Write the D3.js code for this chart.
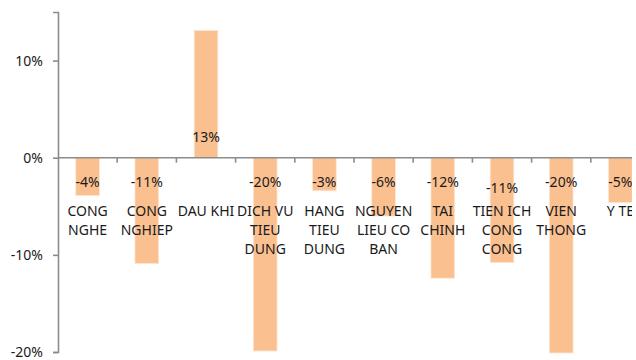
<!DOCTYPE html>
<html>
<head>
<meta charset="utf-8">
<script src="https://cdn.jsdelivr.net/npm/d3@7"></script>
<style>
  html, body { margin: 0; padding: 0; background: #fff; overflow: hidden; }
  svg { display: block; font-family: "Noto Sans", sans-serif; }
</style>
</head>
<body>
<svg id="chart" width="636" height="360"></svg>
<script>
// Sector returns; category names use "\n" for line breaks
const categories = [
  "CONG\nNGHE", "CONG\nNGHIEP", "DAU KHI", "DICH VU\nTIEU\nDUNG", "HANG\nTIEU\nDUNG",
  "NGUYEN\nLIEU CO\nBAN", "TAI\nCHINH", "TIEN ICH\nCONG\nCONG", "VIEN\nTHONG", "Y TE"
];
const values = [-0.039, -0.109, 0.131, -0.199, -0.034, -0.060, -0.124, -0.108, -0.201, -0.046];
const yTicks = [-0.2, -0.1, 0, 0.1];

const svg = d3.select("#chart");
const margin = { left: 58, top: 12 };
const plotW = 592, plotH = 340;

// everything is cut off at the right edge of the drawing area
svg.append("defs").append("clipPath").attr("id", "area")
  .append("rect").attr("x", 0).attr("y", 0).attr("width", 632).attr("height", 360);
const root = svg.append("g").attr("clip-path", "url(#area)");

const x = d3.scaleBand().domain(categories).range([margin.left, margin.left + plotW]).paddingInner(0.6).paddingOuter(0.3);
const y = d3.scaleLinear().domain([-0.2, 0.15]).range([margin.top + plotH, margin.top]);
const pct = d3.format(".0%");
const fmt = d => pct(d).replace("\u2212", "-");
const axisColor = "#8c8c8c";

// bars
root.append("g").selectAll("rect").data(values).join("rect")
  .attr("x", (d, i) => x(categories[i]))
  .attr("width", x.bandwidth())
  .attr("y", d => y(Math.max(0, d)))
  .attr("height", d => Math.abs(y(d) - y(0)))
  .attr("fill", "#FAC090")
  .attr("stroke", "#fde6d2")
  .attr("stroke-width", 0.8);

// y axis
const yAxis = root.append("g").attr("transform", `translate(${margin.left},0)`)
  .call(d3.axisLeft(y).tickValues(yTicks).tickFormat(fmt).tickSize(5).tickPadding(10));
yAxis.select(".domain").attr("stroke", axisColor).attr("stroke-width", 1.6);
yAxis.selectAll(".tick line").attr("stroke", axisColor).attr("stroke-width", 1.6);
yAxis.selectAll("text").attr("font-size", 14).attr("fill", "#1a1a1a").attr("font-family", "Noto Sans");

// category axis along zero line, ticks between categories
const boundaries = d3.range(categories.length + 1).map(i => margin.left + i * plotW / categories.length);
const xg = root.append("g");
xg.append("line")
  .attr("x1", margin.left).attr("x2", margin.left + plotW)
  .attr("y1", y(0)).attr("y2", y(0))
  .attr("stroke", axisColor).attr("stroke-width", 1.6);
xg.selectAll("line.tick").data(boundaries.slice(1)).join("line").attr("class", "tick")
  .attr("x1", d => d).attr("x2", d => d)
  .attr("y1", y(0)).attr("y2", y(0) + 5)
  .attr("stroke", axisColor).attr("stroke-width", 1.6);

// category labels
const catG = root.append("g").attr("font-size", 14).attr("fill", "#1a1a1a").attr("text-anchor", "middle");
categories.forEach(c => {
  const cx = x(c) + x.bandwidth() / 2;
  const t = catG.append("text").attr("x", cx).attr("y", 216);
  c.split("\n").forEach((line, j) => {
    t.append("tspan").attr("x", cx).attr("dy", j === 0 ? 0 : 19).text(line);
  });
});

// value labels
const labelNudge = { 7: 6 };
root.append("g").attr("font-size", 14).attr("fill", "#1a1a1a").attr("text-anchor", "middle")
  .selectAll("text").data(values).join("text")
  .attr("x", (d, i) => x(categories[i]) + x.bandwidth() / 2)
  .attr("y", (d, i) => (d >= 0 ? y(0) - 16 : y(0) + 29) + (labelNudge[i] || 0))
  .text(d => fmt(d));
</script>
</body>
</html>
